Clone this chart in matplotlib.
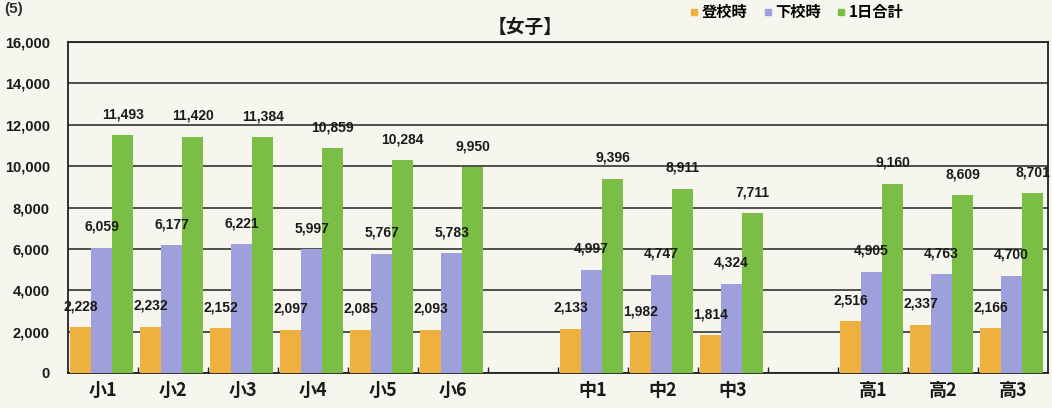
import numpy as np
import matplotlib
matplotlib.use("Agg")
import matplotlib.pyplot as plt
from matplotlib.lines import Line2D
from matplotlib.ticker import FuncFormatter, FixedLocator

plt.rcParams['font.family'] = ['Liberation Sans', 'Noto Sans CJK JP', 'DejaVu Sans']
plt.rcParams['font.weight'] = 'bold'

categories = ['小1', '小2', '小3', '小4', '小5', '小6', '',
              '中1', '中2', '中3', '',
              '高1', '高2', '高3']
series_names = ['登校時', '下校時', '1日合計']
arrival = [2228, 2232, 2152, 2097, 2085, 2093, None,
           2133, 1982, 1814, None,
           2516, 2337, 2166]
departure = [6059, 6177, 6221, 5997, 5767, 5783, None,
             4997, 4747, 4324, None,
             4905, 4763, 4700]
daily_total = [11493, 11420, 11384, 10859, 10284, 9950, None,
               9396, 8911, 7711, None,
               9160, 8609, 8701]
colors = ['#EEB03E', '#9DA0DA', '#7BBE46']
title = '【女子】'

bg = '#F6F5EE'
fig = plt.figure(figsize=(10.52, 4.08), dpi=100, facecolor=bg)
ax = fig.add_axes([68/1052, 1 - 373/408, (1048-68)/1052, (373-42)/408])
ax.set_facecolor(bg)

x = np.arange(len(categories))
w = 0.3
cjk = ['Noto Sans CJK JP', 'DejaVu Sans']
for i, (vals, col) in enumerate(zip([arrival, departure, daily_total], colors)):
    v = np.array([np.nan if a is None else a for a in vals], dtype=float)
    xs = x + (i - 1) * w - 0.02
    ax.bar(xs, v, width=w, color=col, zorder=3, linewidth=0)
    for xi, vi in zip(xs, v):
        if np.isnan(vi):
            continue
        ax.annotate(f'{int(vi):,}', (xi, vi), xytext=(0, 10), textcoords='offset points',
                    ha='center', va='bottom', fontsize=10, fontweight='bold',
                    color='#1a1a1a', zorder=4)

ax.set_xlim(-0.5, len(categories) - 0.5)
ax.set_ylim(0, 16000)
ax.yaxis.set_major_locator(FixedLocator(np.arange(0, 16001, 2000)))
ax.yaxis.set_major_formatter(FuncFormatter(lambda v, p: f'{int(v):,}'))
ax.grid(axis='y', color='#222222', linewidth=1.1, zorder=1)
ax.tick_params(axis='y', length=0, pad=13, labelsize=10.5, colors='#1a1a1a')
ax.set_xticks(x)
ax.set_xticklabels(categories, fontsize=13, fontweight='bold', family=cjk)
ax.tick_params(axis='x', length=0, pad=6, colors='#1a1a1a')
ax.set_xticks(np.arange(0.5, len(categories) - 0.5, 1), minor=True)
ax.tick_params(axis='x', which='minor', direction='in', length=4, width=1, color='#222222')
for s in ax.spines.values():
    s.set_color('#222222')
    s.set_linewidth(1.3)

fig.text(525/1052, 1 - 27/408, title, ha='center', va='center', fontsize=13.5,
         fontweight='bold', family=cjk, color='#1a1a1a')
fig.text(0.004, 1 - 2/408, '(5)', ha='left', va='top', fontsize=11,
         fontweight='bold', color='#333333')

handles = [Line2D([], [], marker='s', ls='', color=c, markersize=5) for c in colors]
leg = fig.legend(handles, series_names, loc='center left',
                 bbox_to_anchor=(676/1052, 1 - 12/408), ncol=3, frameon=False,
                 handlelength=0.6, handletextpad=0.2, columnspacing=1.0,
                 prop={'family': cjk, 'weight': 'bold', 'size': 11})

fig.savefig('out.png', dpi=100, facecolor=bg)
